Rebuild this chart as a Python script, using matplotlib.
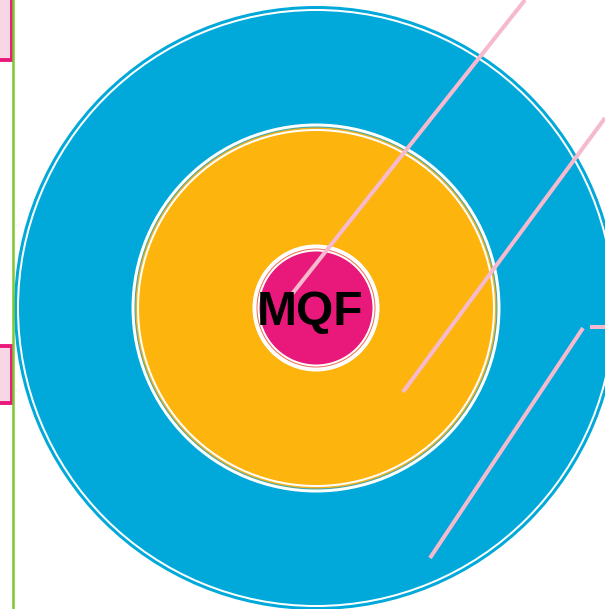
import matplotlib.pyplot as plt
from matplotlib.patches import Circle, Rectangle

# rings: (radius, colour) drawn from outside in
centre = (316, 308)
ring_radii = [302, 299, 297, 184.5, 181.5, 180.5, 179, 177, 63.5, 59.5, 58.5, 56.5]
ring_colors = ['#00A9DA', 'white', '#00A9DA', 'white', '#3AAAB0', '#F0B020', 'white',
               '#FDB50E', 'white', '#F07050', 'white', '#E8197A']
label = 'MQF'

# pink leader lines (pixel coords)
lines_x = [[292, 525], [403, 605], [430, 583], [590, 605]]
lines_y = [[294, 0], [392, 118], [558, 328], [327, 327]]

# left boxes
box_tops = [-10, 346]
box_heights = [70, 57]

fig = plt.figure(figsize=(6.05, 6.09), dpi=100)
ax = fig.add_axes([0, 0, 1, 1])
ax.set_xlim(0, 605)
ax.set_ylim(609, 0)
ax.axis('off')

for r, c in zip(ring_radii, ring_colors):
    ax.add_patch(Circle(centre, r, facecolor=c, edgecolor='none'))

for xs, ys in zip(lines_x, lines_y):
    ax.plot(xs, ys, color='#F6B9CD', lw=2.9, solid_capstyle='butt')

ax.plot([13, 13], [0, 609], color='#7DC832', lw=1.8)
for t, h in zip(box_tops, box_heights):
    ax.add_patch(Rectangle((-20, t), 32, h, facecolor='#F9D6E3', edgecolor='#E8197A', lw=2.8))

ax.text(310, 313, label, fontsize=34.5, fontweight='bold', family='Liberation Sans',
        ha='center', va='center', color='black')

fig.savefig('out.png', dpi=100)
